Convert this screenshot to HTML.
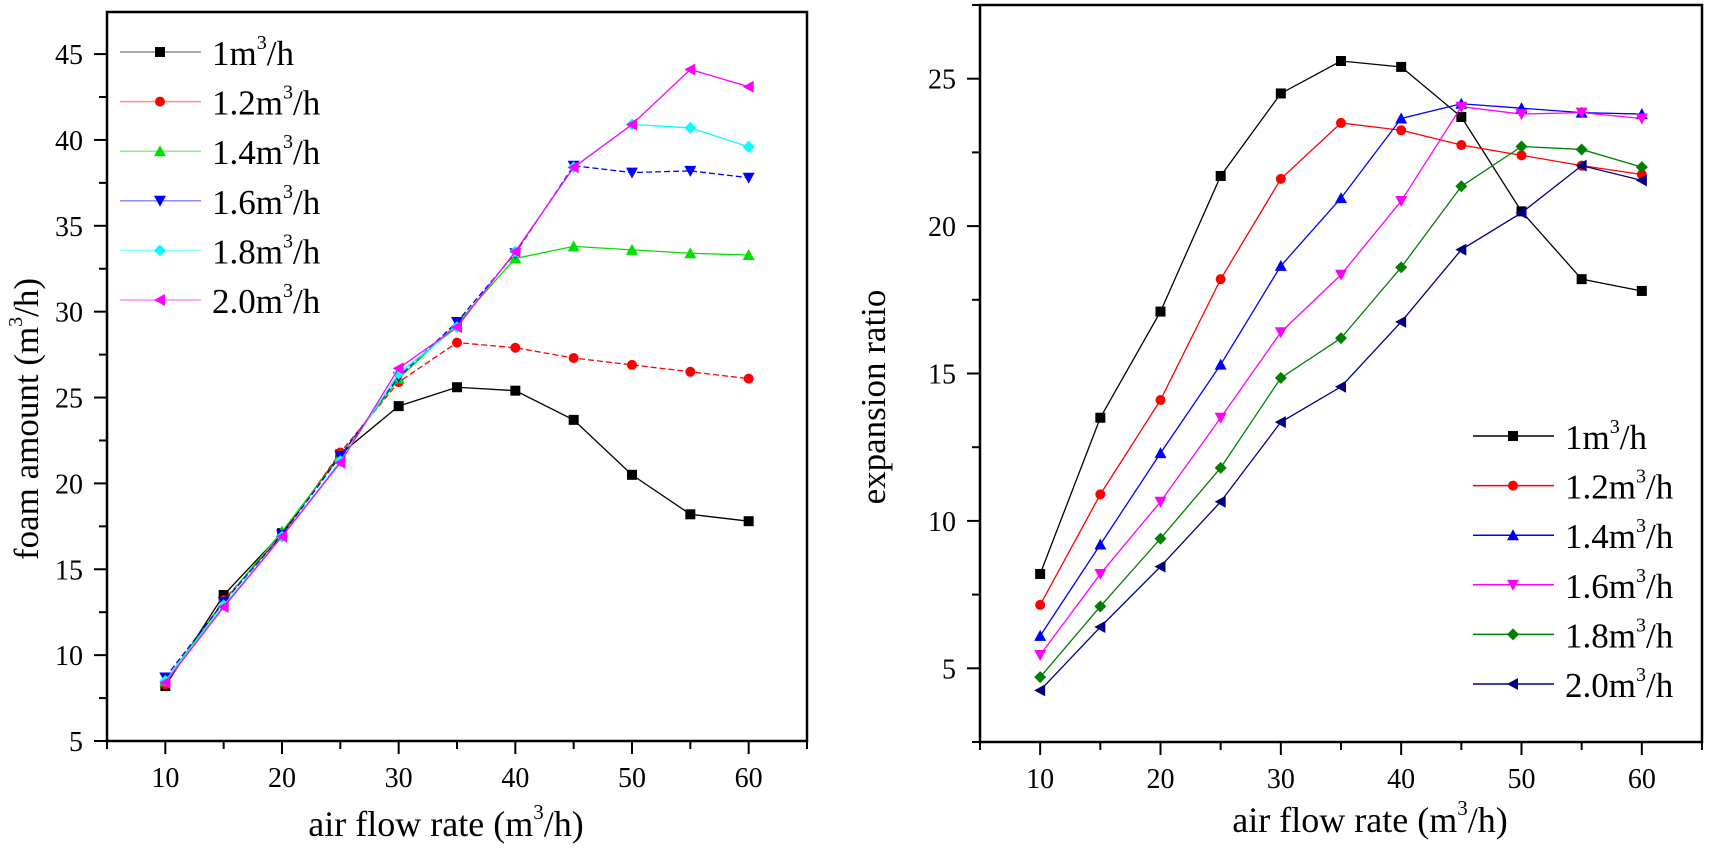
<!DOCTYPE html>
<html><head><meta charset="utf-8"><style>
html,body{margin:0;padding:0;background:#fff;}
svg{display:block;font-family:"Liberation Serif",serif;}
</style></head><body>
<svg id="s" width="1710" height="849" viewBox="0 0 1710 849" xmlns="http://www.w3.org/2000/svg"></svg>
<script>
const S=document.getElementById('s');
let h='';
const X=[10,15,20,25,30,35,40,45,50,55,60];
function mk(type,x,y,c,r){r=r||5;
 if(type=='sq')return `<rect x="${x-r}" y="${y-r}" width="${2*r}" height="${2*r}" fill="${c}"/>`;
 if(type=='ci')return `<circle cx="${x}" cy="${y}" r="${r}" fill="${c}"/>`;
 if(type=='tu')return `<polygon points="${x},${y-r-1} ${x+r+1},${y+r} ${x-r-1},${y+r}" fill="${c}"/>`;
 if(type=='td')return `<polygon points="${x},${y+r+1} ${x+r+1},${y-r} ${x-r-1},${y-r}" fill="${c}"/>`;
 if(type=='di')return `<polygon points="${x},${y-r-1} ${x+r+1},${y} ${x},${y+r+1} ${x-r-1},${y}" fill="${c}"/>`;
 if(type=='tl')return `<polygon points="${x-r-1},${y} ${x+r},${y-r-1} ${x+r},${y+r+1}" fill="${c}"/>`;
}
function plot(o){
 const fx=v=>o.x0+(v-5)*(o.x1-o.x0)/60, fy=v=>o.y1-(v-o.ymin)*(o.y1-o.y0)/(o.ymax-o.ymin);
 o.series.forEach(s=>{
  h+=`<polyline fill="none" stroke="${s.c}" stroke-width="1.3" ${s.dash?'stroke-dasharray="6,3"':''} points="${s.d.map((v,i)=>fx(X[i])+','+fy(v)).join(' ')}"/>`;
  s.d.forEach((v,i)=>h+=mk(s.m,fx(X[i]),fy(v),s.c));
 });
 h+=`<rect x="${o.x0}" y="${o.y0}" width="${o.x1-o.x0}" height="${o.y1-o.y0}" fill="none" stroke="#000" stroke-width="2.5"/>`;
 for(let v=5;v<=65;v+=5){const x=fx(v);const maj=v%10==0;
  h+=`<line x1="${x}" y1="${o.y1}" x2="${x}" y2="${o.y1+(maj?13:8)}" stroke="#000" stroke-width="2"/>`;
  if(maj&&v>=10&&v<=60)h+=`<text x="${x}" y="${o.y1+46}" font-size="28" text-anchor="middle">${v}</text>`;}
 for(let v=o.ymin;v<=o.ymax+0.01;v+=2.5){const y=fy(v);const maj=Math.abs(v%5)<0.01;
  h+=`<line x1="${o.x0-(maj?13:8)}" y1="${y}" x2="${o.x0}" y2="${y}" stroke="#000" stroke-width="2"/>`;
  if(maj)h+=`<text x="${o.x0-24}" y="${y+10}" font-size="28" text-anchor="end">${v}</text>`;}
 o.series.forEach((s,i)=>{const y=o.ly+i*o.ld;
  h+=`<line x1="${o.lx}" y1="${y}" x2="${o.lx+81}" y2="${y}" stroke="${s.c}" stroke-width="1.5" opacity="${o.lop}"/>`;
  h+=mk(s.m,o.lx+40,y,s.c,5);
  h+=`<text x="${o.lx+92}" y="${y+13}" font-size="35">${s.n}m<tspan font-size="20" dy="-16">3</tspan><tspan dy="16">/h</tspan></text>`;});
 h+=`<text x="${o.xlx}" y="${o.xly}" font-size="36" text-anchor="middle">air flow rate (m<tspan font-size="21" dy="-17">3</tspan><tspan dy="17">/h)</tspan></text>`;
 h+=`<text transform="translate(${o.ylx},${o.yly}) rotate(-90)" font-size="35" text-anchor="middle">${o.yl}</text>`;
}
plot({x0:107,x1:807,y0:12,y1:741,ymin:5,ymax:47.45,lx:120,ly:52,ld:49.6,lop:0.45,xlx:446,xly:836,ylx:38,yly:419,
 yl:'foam amount (m<tspan font-size="20" dy="-16">3</tspan><tspan dy="16">/h)</tspan>',
 series:[
 {n:'1',c:'#000',m:'sq',d:[8.2,13.5,17.1,21.7,24.5,25.6,25.4,23.7,20.5,18.2,17.8]},
 {n:'1.2',c:'#ff0000',m:'ci',dash:1,d:[8.3,13.2,17,21.8,25.9,28.2,27.9,27.3,26.9,26.5,26.1]},
 {n:'1.4',c:'#00e000',m:'tu',d:[8.5,13.1,17.2,21.6,26.1,29.3,33.1,33.8,33.6,33.4,33.3]},
 {n:'1.6',c:'#0000ff',m:'td',dash:1,d:[8.7,13.1,17,21.6,26.2,29.4,33.4,38.5,38.1,38.2,37.8]},
 {n:'1.8',c:'#00ffff',m:'di',d:[8.5,12.9,16.9,21.3,26.4,29.1,33.5,38.4,40.9,40.7,39.6]},
 {n:'2.0',c:'#ff00ff',m:'tl',d:[8.4,12.8,16.9,21.2,26.7,29.1,33.5,38.4,40.9,44.1,43.1]}]});
plot({x0:980,x1:1702,y0:5,y1:742,ymin:2.5,ymax:27.5,lx:1473,ly:436,ld:49.6,lop:1,xlx:1370,xly:832,ylx:885,yly:397,
 yl:'expansion ratio',
 series:[
 {n:'1',c:'#000',m:'sq',d:[8.2,13.5,17.1,21.7,24.5,25.6,25.4,23.7,20.5,18.2,17.8]},
 {n:'1.2',c:'#ff0000',m:'ci',d:[7.15,10.9,14.1,18.2,21.6,23.5,23.25,22.75,22.4,22.05,21.75]},
 {n:'1.4',c:'#0000ff',m:'tu',d:[6.1,9.2,12.3,15.3,18.65,20.95,23.65,24.15,24.0,23.85,23.8]},
 {n:'1.6',c:'#ff00ff',m:'td',d:[5.45,8.2,10.65,13.5,16.4,18.35,20.85,24.05,23.8,23.85,23.65]},
 {n:'1.8',c:'#008000',m:'di',d:[4.7,7.1,9.4,11.8,14.85,16.2,18.6,21.35,22.7,22.6,22.0]},
 {n:'2.0',c:'#000080',m:'tl',d:[4.25,6.4,8.45,10.65,13.35,14.55,16.75,19.2,20.45,22.05,21.55]}]});
S.innerHTML=h;
</script>
</body></html>
